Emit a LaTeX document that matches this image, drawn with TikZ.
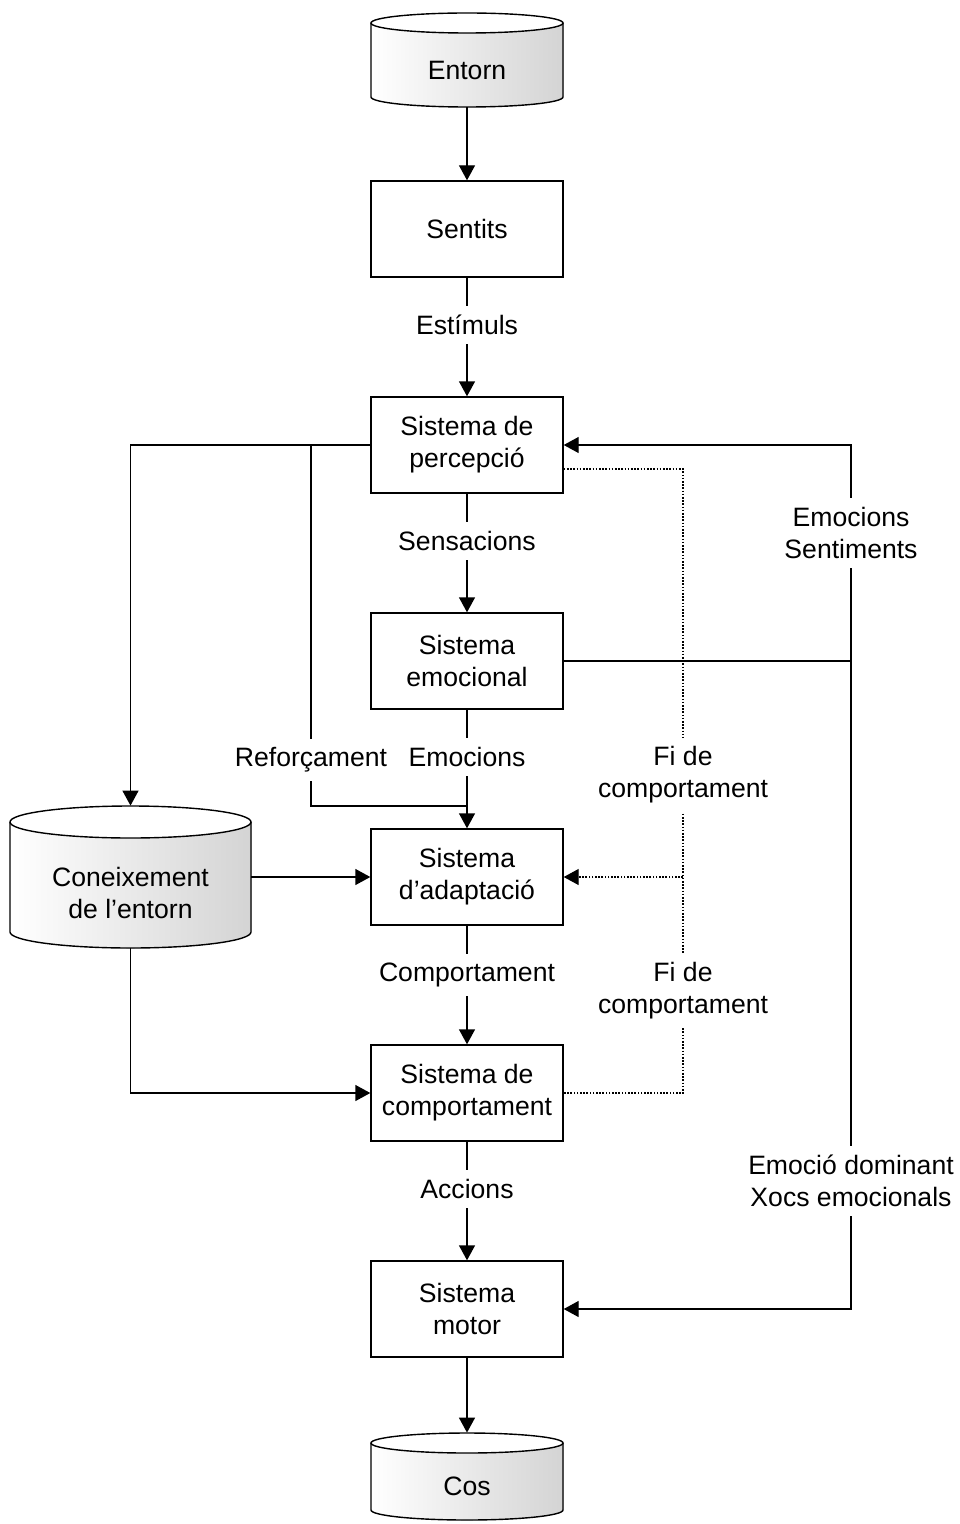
\documentclass[tikz,border=0pt]{standalone}
\usepackage{fontspec}
\setmainfont{Liberation Sans}
\usetikzlibrary{arrows.meta}
\definecolor{cylgray}{RGB}{212,212,212}
\tikzset{
  every node/.style={font=\fontsize{13.3}{16}\selectfont},
  box/.style={draw,line width=0.7pt,minimum width=96pt,minimum height=48pt,align=center,inner sep=0pt},
  lbl/.style={fill=white,align=center,inner xsep=2pt,inner ysep=4.5pt},
  conn/.style={line width=0.7pt,-{Triangle[length=7.5pt,width=8pt]}},
  plain/.style={line width=0.7pt},
  dots/.style={line width=0.6pt,dash pattern=on 0.8pt off 0.8pt},
  cylline/.style={line width=0.7pt}
}
% #1 name, #2 cx, #3 half width, #4 top corner y, #5 bottom corner y, #6 ry, #7 text
\newcommand\mycyl[7]{%
  \fill[left color=white,right color=cylgray]
    (#2-#3,#4) -- (#2-#3,#5) arc[start angle=180,end angle=360,x radius=#3,y radius=#6]
    -- (#2+#3,#4) -- cycle;
  \fill[white] (#2,#4) ellipse[x radius=#3,y radius=#6];
  \draw[cylline] (#2-#3,#4) -- (#2-#3,#5) arc[start angle=180,end angle=360,x radius=#3,y radius=#6]
    -- (#2+#3,#4);
  \draw[cylline] (#2,#4) ellipse[x radius=#3,y radius=#6];
  \node[minimum width=2*#3*0.5pt,minimum height=(#4-#5+2*#6)*0.5pt,inner sep=0pt] (#1) at (#2,{(#4+#5)/2}) {};
  \node[align=center] at ([yshift=-#6*0.5pt]#1.center) {#7};
}
\begin{document}
\begin{tikzpicture}[x=0.5pt,y=0.5pt]
\useasboundingbox (0,0) rectangle (959,-1524);
% cylinders
\mycyl{entorn}{467}{96}{-23}{-97}{10}{Entorn}
\mycyl{con}{130.5}{120.5}{-822}{-932}{16}{Coneixement\\de l’entorn}
\mycyl{cos}{467}{96}{-1443}{-1510}{10}{Cos}
% boxes
\node[box] (sentits) at (467,-229) {Sentits};
\node[box] (perc) at (467,-445) {Sistema de\\percepció};
\node[box] (emoc) at (467,-661) {Sistema\\emocional};
\node[box] (adapt) at (467,-877) {Sistema\\d’adaptació};
\node[box] (comp) at (467,-1093) {Sistema de\\comportament};
\node[box] (motor) at (467,-1309) {Sistema\\motor};
% helper coordinates
\coordinate (r1) at (311,-806);
\coordinate (j1) at (467,-806);
\coordinate (rtop) at (851,-445);
\coordinate (rbot) at (851,-1309);
\coordinate (d1) at (683,-469);
\coordinate (d2) at (683,-1093);
\coordinate (d3) at (683,-877);
% main column
\draw[conn] (entorn.south) -- (sentits.north);
\draw[conn] (sentits.south) -- (perc.north);
\draw[conn] (perc.south) -- (emoc.north);
\draw[conn] (emoc.south) -- (adapt.north);
\draw[conn] (adapt.south) -- (comp.north);
\draw[conn] (comp.south) -- (motor.north);
\draw[conn] (motor.south) -- (cos.north);
% left side
\draw[conn] (perc.west) -| (con.north);
\draw[plain] (perc.west) -| (r1) -- (j1);
\draw[conn] (con.east) -- (adapt.west);
\draw[conn] (con.south) |- (comp.west);
% right side
\draw[conn] (emoc.east) -| (rtop) -- (perc.east);
\draw[conn] (emoc.east) -| (rbot) -- (motor.east);
% dotted
\draw[dots] (d1 -| perc.east) -- (d1) -- (d2) -- (comp.east);
\draw[dots,-{Triangle[length=7.5pt,width=8pt]}] (d3) -- (adapt.east);
% labels
\node[lbl] (l1) at (467,-325) {Estímuls};
\node[lbl] (l2) at (467,-541) {Sensacions};
\node[lbl] (l3) at (467,-757) {Emocions};
\node[lbl] (l4) at (311,-760) {Reforçament};
\node[lbl] (l5) at (467,-975) {Comportament};
\node[lbl] (l6) at (467,-1189) {Accions};
\node[lbl] (l7) at (851,-533) {Emocions\\Sentiments};
\node[lbl] (l8) at (851,-1181) {Emoció dominant\\Xocs emocionals};
\node[lbl] (l9) at (683,-775) {Fi de\\comportament};
\node[lbl] (l10) at (683,-991) {Fi de\\comportament};
\end{tikzpicture}
\end{document}
